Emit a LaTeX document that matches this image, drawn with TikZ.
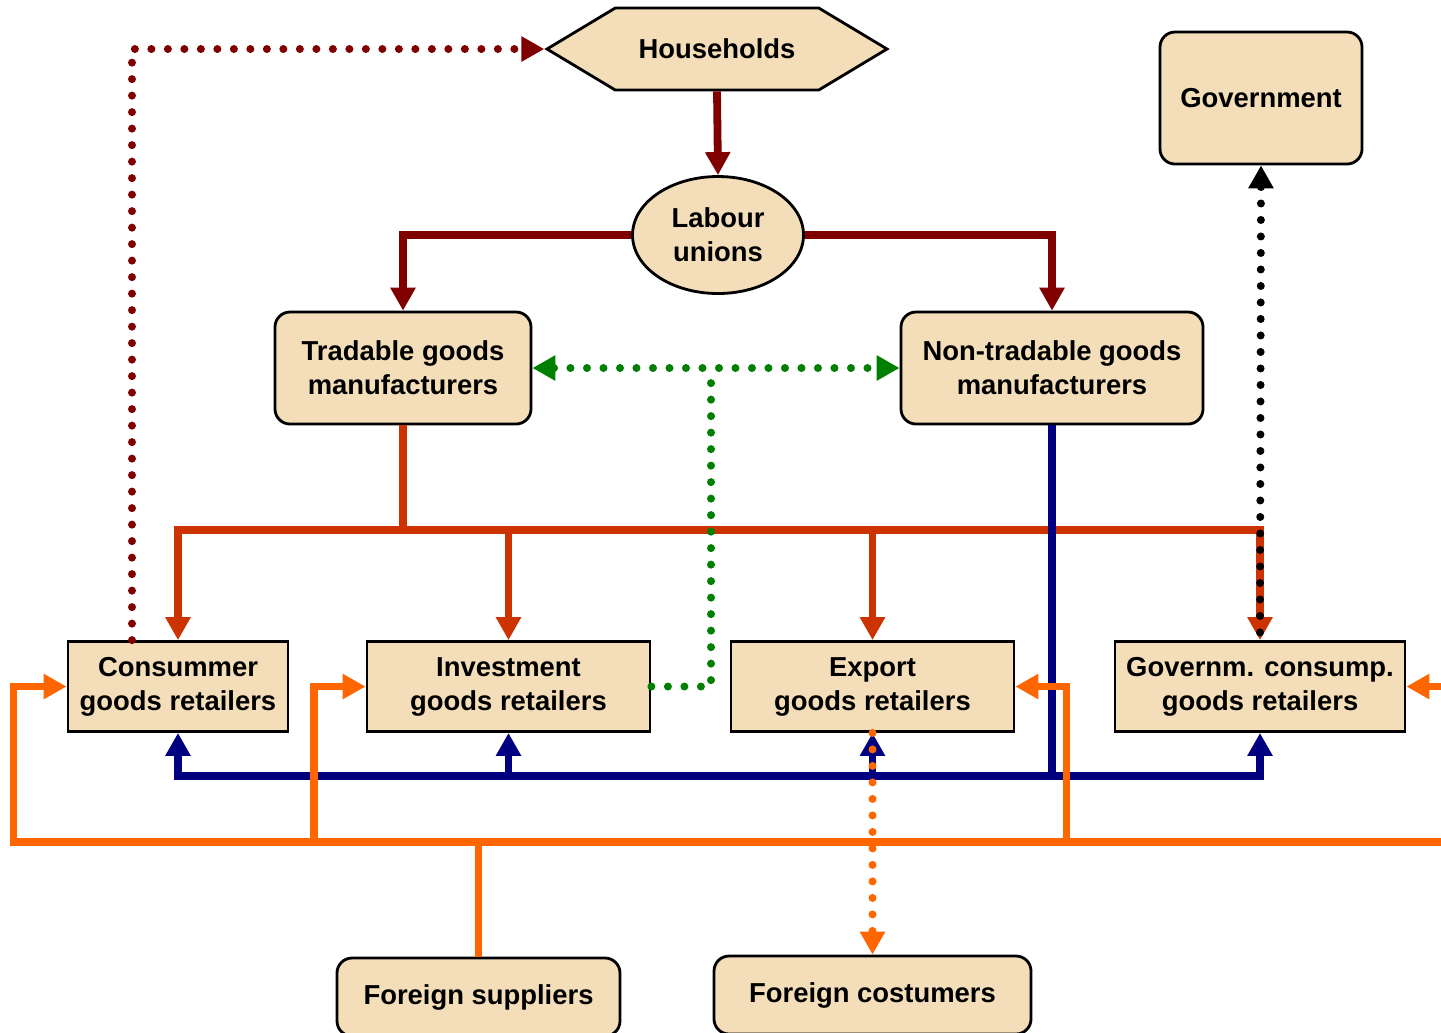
\documentclass[tikz,border=0pt]{standalone}
\usepackage{fontspec}
\setmainfont{Liberation Sans}
\usetikzlibrary{shapes.geometric, shapes.symbols, arrows.meta}

\definecolor{boxfill}{RGB}{243,222,185}
\definecolor{labred}{RGB}{128,0,0}
\definecolor{trdred}{RGB}{204,51,0}
\definecolor{ntnavy}{RGB}{0,0,128}
\definecolor{frgorange}{RGB}{255,102,0}
\definecolor{grn}{RGB}{0,128,0}

\begin{document}
\begin{tikzpicture}[font=\fontsize{7.8}{9.7}\selectfont\bfseries,
  >={Triangle[length=0.23cm, width=0.24cm]},
  bx/.style={draw, fill=boxfill, line width=0.8pt, align=center, inner sep=0pt},
  rbx/.style={bx, rounded corners=0.15cm},
  flow/.style={line width=0.078cm},
  dots/.style={line width=0.08cm, line cap=round, dash pattern=on 0pt off 0.165cm}]
  \useasboundingbox (0,0) rectangle (14.41,-10.32);

  \node[bx, signal, signal to=east and west, signal pointer angle=62,
        minimum width=3.4cm, minimum height=0.82cm] (hh) at (7.17,-0.49) {Households};
  \node[rbx, minimum width=2.02cm, minimum height=1.32cm] (gov) at (12.61,-0.98) {Government};
  \node[bx, ellipse, minimum width=1.71cm, minimum height=1.17cm] (lu) at (7.18,-2.35) {Labour\\ unions};
  \node[rbx, minimum width=2.56cm, minimum height=1.12cm] (tg) at (4.03,-3.68) {Tradable goods\\ manufacturers};
  \node[rbx, minimum width=3.02cm, minimum height=1.12cm] (ng) at (10.52,-3.68) {Non-tradable goods\\ manufacturers};
  \node[bx, minimum width=2.20cm, minimum height=0.90cm] (cr) at (1.78,-6.865) {Consummer\\ goods retailers};
  \node[bx, minimum width=2.83cm, minimum height=0.90cm] (ir) at (5.085,-6.865) {Investment\\ goods retailers};
  \node[bx, minimum width=2.83cm, minimum height=0.90cm] (er) at (8.725,-6.865) {Export\\ goods retailers};
  \node[bx, minimum width=2.90cm, minimum height=0.90cm] (gr) at (12.60,-6.865) {Governm. consump.\\ goods retailers};
  \node[rbx, minimum width=2.83cm, minimum height=0.78cm] (fs) at (4.785,-9.97) {Foreign suppliers};
  \node[rbx, minimum width=3.17cm, minimum height=0.78cm] (fc) at (8.725,-9.95) {Foreign costumers};

  \coordinate (tbus) at (4.03,-5.30);
  \coordinate (nbus) at (10.52,-7.76);
  \coordinate (gj) at (7.11,-3.68);
  \coordinate (obus) at (4.785,-8.42);

  % labour
  \draw[flow, labred, ->] (hh.south) -- (lu.north);
  \draw[flow, labred, ->] (lu.west) -| (tg.north);
  \draw[flow, labred, ->] (lu.east) -| (ng.north);
  \draw[dots, labred, ->] ([xshift=-0.46cm]cr.north) |- (hh.west);

  % tradable goods
  \draw[flow, trdred] (tg.south) -- (tbus);
  \draw[flow, trdred, ->] (tbus) -| (cr.north);
  \draw[flow, trdred, ->] (tbus) -| (ir.north);
  \draw[flow, trdred, ->] (tbus) -| (er.north);
  \draw[flow, trdred, ->] (tbus) -| (gr.north);

  % non-tradable goods
  \draw[flow, ntnavy] (ng.south) -- (nbus);
  \draw[flow, ntnavy, ->] (nbus) -| (cr.south);
  \draw[flow, ntnavy, ->] (nbus) -| (ir.south);
  \draw[flow, ntnavy, ->] (nbus) -| (er.south);
  \draw[flow, ntnavy, ->] (nbus) -| (gr.south);

  \draw[dots, grn, <->] (tg.east) -- (ng.west);
  \draw[dots, grn] (ir.east) -| (gj);
  \draw[dots, black, <-] (gov.south) -- (gr.north);

  % imports
  \draw[flow, frgorange] (fs.north) -- (obus);
  \draw[flow, frgorange, ->] (obus) -| ([xshift=-0.53cm]cr.west) -- (cr.west);
  \draw[flow, frgorange, ->] (obus) -| ([xshift=-0.52cm]ir.west) -- (ir.west);
  \draw[flow, frgorange, ->] (obus) -| ([xshift=0.51cm]er.east) -- (er.east);
  \draw[flow, frgorange, ->] (obus) -| ([xshift=0.6cm]gr.east) -- (gr.east);
  \draw[dots, frgorange, ->] (er.south) -- (fc.north);
\end{tikzpicture}
\end{document}
